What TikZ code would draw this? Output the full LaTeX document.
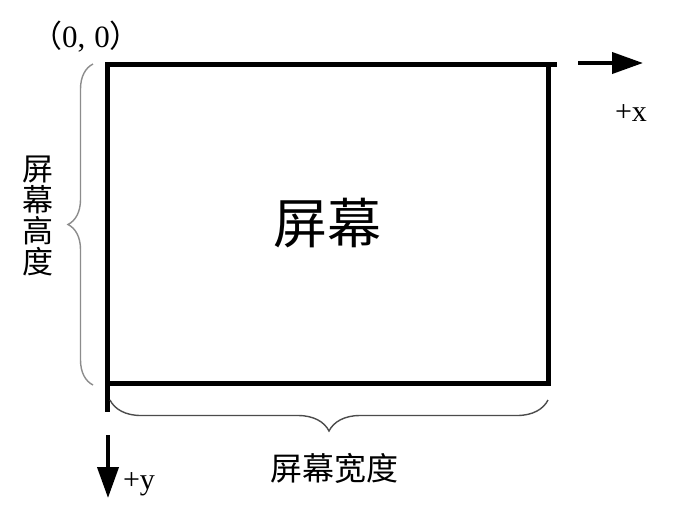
\documentclass[tikz,border=0pt]{standalone}
\usepackage{fontspec}
\setmainfont{Liberation Serif}
\newfontfamily\cjk{Noto Sans CJK SC}
\usetikzlibrary{arrows.meta,decorations.pathreplacing}
\tikzset{
  frameline/.style={line width=5pt, line join=miter},
  axisarrow/.style={line width=4pt, -{Triangle[length=31pt,width=21pt]}},
  bracegray/.style={decorate, decoration={brace, amplitude=#1}, line width=1.4pt},
  lbl/.style={inner sep=0pt, outer sep=0pt}
}
\begin{document}
\begin{tikzpicture}[x=1pt,y=-1pt]
\path[use as bounding box, fill=white] (0,0) rectangle (692,515);
% screen rectangle
\node[frameline, draw, minimum width=441pt, minimum height=319pt, inner sep=0pt, outer sep=0pt,
      font=\cjk\fontsize{54}{54}\selectfont] (screen) at (327.5,223.5) {屏幕};
% extensions of top and left edges
\coordinate (topext) at (557,64);
\coordinate (leftext) at (107,412);
\draw[frameline] (screen.north east) -- (topext);
\draw[frameline] (screen.south west) -- (leftext);
% origin label
\node[lbl, anchor=base, font=\fontsize{31}{31}\selectfont] (origin) at (86,47) {{\cjk （}0,\hspace{9pt}0{\cjk ）}};
% x axis
\coordinate (xs) at (578,63);
\coordinate (xe) at (643,63);
\draw[axisarrow] (xs) -- (xe);
\node[lbl, anchor=base, font=\fontsize{30}{30}\selectfont] (xl) at (631,121) {+x};
% y axis
\coordinate (ys) at (108,435);
\coordinate (ye) at (108,498);
\draw[axisarrow] (ys) -- (ye);
\node[lbl, anchor=base west, font=\fontsize{30}{30}\selectfont] (yl) at (123,489) {+y};
% braces
\coordinate (lb1) at (93,385);
\coordinate (lb2) at (93,64);
\draw[bracegray=25pt, draw=black!45] (lb1) -- (lb2);
\coordinate (bb1) at (548,400);
\coordinate (bb2) at (110,400);
\draw[bracegray=31pt, draw=black!70] (bb1) -- (bb2);
% labels of braces
\node[lbl, align=center, font=\cjk\fontsize{31}{31}\selectfont] (hl) at (38,216) {屏\\幕\\高\\度};
\node[lbl, font=\cjk\fontsize{32}{32}\selectfont] (wl) at (334.5,468) {屏幕宽度};
\end{tikzpicture}
\end{document}
